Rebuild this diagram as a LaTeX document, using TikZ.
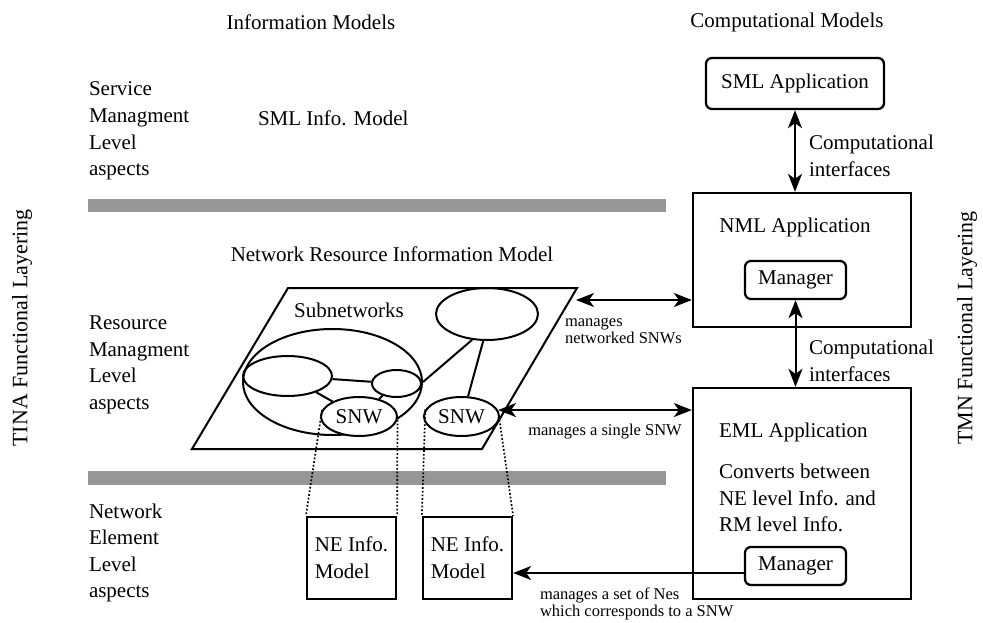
\documentclass[tikz,border=0pt]{standalone}
\usepackage{fontspec}
\setmainfont{Liberation Serif}
\usetikzlibrary{arrows.meta,shapes.geometric}
\definecolor{bargray}{RGB}{150,150,150}
\begin{document}
\begin{tikzpicture}[x=1pt,y=-1pt,
  line width=2pt,
  txt/.style={font=\fontsize{21}{26.6}\selectfont, inner sep=0pt, align=left},
  sidetxt/.style={font=\fontsize{22}{26}\selectfont, inner sep=0pt},
  smalltxt/.style={font=\fontsize{16.5}{16.5}\selectfont, inner sep=0pt, align=left},
  oval/.style={draw, ellipse, inner sep=0pt},
  appbox/.style={draw, rectangle, inner sep=0pt, line width=2.3pt},
  mgrbox/.style={draw, rectangle, rounded corners=6pt, inner sep=0pt, line width=2.3pt,
                 font=\fontsize{21}{24}\selectfont},
  tip/.style={-{Stealth[length=18pt,width=14pt,inset=5pt]}},
  dtip/.style={{Stealth[length=18pt,width=14pt,inset=5pt]}-{Stealth[length=18pt,width=14pt,inset=5pt]}},
  dots/.style={dotted, line width=1.7pt}]
\useasboundingbox (0,0) rectangle (983,623);

% column titles
\node[txt] (tinfo) at (311,22) {Information Models};
\node[txt] (tcomp) at (787,22) {Computational Models};

% side captions
\node[sidetxt, rotate=90] (tina) at (22,328) {TINA Functional Layering};
\node[sidetxt, rotate=90] (tmn) at (967,328) {TMN Functional Layering};

% level captions
\node[txt, anchor=west] (sml) at (88,131) {Service\\Managment\\Level\\aspects};
\node[txt, anchor=west] (rml) at (88,365) {Resource\\Managment\\Level\\aspects};
\node[txt, anchor=west] (nel) at (88,553) {Network\\Element\\Level\\aspects};

% layer separators
\fill[bargray] (88,199) rectangle (666,212);
\fill[bargray] (88,471) rectangle (666,485);

\node[txt, anchor=west] (smlinfo) at (257,118) {SML Info. Model};
\node[txt] (nrim) at (392,254) {Network Resource Information Model};

% network resource plane
\coordinate (p1) at (288,288);
\coordinate (p2) at (577,288);
\coordinate (p3) at (482,449);
\coordinate (p4) at (192,449);
\draw (p1) -- (p2) -- (p3) -- (p4) -- cycle;
\coordinate (pr) at (576,300);

\node[txt] (subn) at (349,310) {Subnetworks};

% subnetworks
\node[oval, minimum width=179pt, minimum height=106pt] (big) at (332.5,382) {};
\node[oval, minimum width=102pt, minimum height=52pt] (tr) at (487,314) {};
\node[oval, minimum width=89pt, minimum height=40pt] (li) at (287.5,376) {};
\node[oval, minimum width=49pt, minimum height=27pt] (ri) at (396.5,383.5) {};
\node[oval, minimum width=76pt, minimum height=39pt, fill=white, txt] (s1) at (359,416.5) {SNW};
\node[oval, minimum width=75pt, minimum height=39pt, fill=white, txt] (s2) at (461.5,416.5) {SNW};

\draw (li) -- (ri);
\draw (li) -- (s1);
\draw (ri) -- (s1);
\draw (big.east) -- (tr.240);
\draw (tr.262) -- (s2.72);

% network element models
\node[appbox, minimum width=89pt, minimum height=82pt, txt] (ne1) at (351.5,558) {NE Info.\\Model};
\node[appbox, minimum width=89pt, minimum height=82pt, txt] (ne2) at (467.5,558) {NE Info.\\Model};

\draw[dots] (s1.170) -- (ne1.north west);
\draw[dots] (s1.-5) -- (ne1.north east);
\draw[dots] (s2.169) -- (ne2.north west);
\draw[dots] (s2.-5) -- (ne2.north east);

% computational side
\node[mgrbox, minimum width=178pt, minimum height=51pt] (smlapp) at (795,83.5) {SML Application};
\node[appbox, minimum width=218pt, minimum height=134pt] (nml) at (802,260) {};
\node[txt] (nmlt) at (795,227) {NML Application};
\node[mgrbox, minimum width=101pt, minimum height=38pt] (mgr1) at (795.5,280) {Manager};

\node[appbox, minimum width=218pt, minimum height=211pt] (eml) at (802,493.5) {};
\node[txt, anchor=west] (emlt) at (718,432) {EML Application};
\node[txt, anchor=west] (conv) at (718,498) {Converts between\\NE level Info. and\\RM level Info.};
\node[mgrbox, minimum width=101pt, minimum height=38pt] (mgr2) at (795.5,566) {Manager};

% interfaces
\draw[dtip] (smlapp.south) -- (smlapp.south |- nml.north);
\node[txt, anchor=west] (ci1) at (808,156) {Computational\\interfaces};
\draw[dtip] (mgr1.south) -- (mgr1.south |- eml.north);
\node[txt, anchor=west] (ci2) at (808,361) {Computational\\interfaces};

\draw[dtip] (pr) -- (pr -| nml.west);
\node[smalltxt, anchor=west] (mns) at (564,331) {manages\\networked SNWs};

\draw[dtip] (s2.10) -- (s2.10 -| eml.west);
\node[smalltxt] (mss) at (605,432) {manages a single SNW};

\draw[tip] ([yshift=-7pt]mgr2.west) -- ([yshift=-7pt]mgr2.west -| ne2.east);
\node[smalltxt, anchor=west] (mset) at (539,604) {manages a set of Nes\\which corresponds to a SNW};
\end{tikzpicture}
\end{document}
